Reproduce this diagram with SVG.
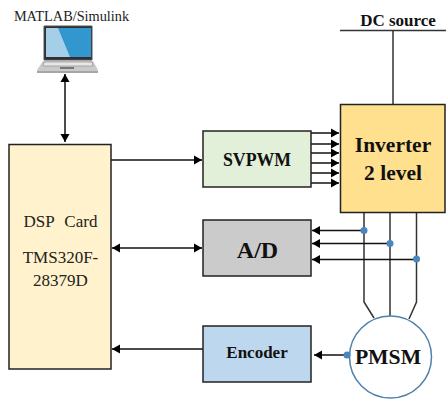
<svg xmlns="http://www.w3.org/2000/svg" width="446" height="401" viewBox="0 0 446 401">
<style>
.b{stroke:#222;stroke-width:1.5}
.c{fill:none;stroke:#111;stroke-width:1.5}
.w{fill:none;stroke:#333;stroke-width:1.5}
.r{font-family:"Liberation Serif",serif;fill:#222;text-anchor:middle}
.h{font-family:"Liberation Serif",serif;fill:#111;font-weight:bold;text-anchor:middle}
.d{fill:#4a86c0}
</style>
<defs>
<marker id="a" markerUnits="userSpaceOnUse" markerWidth="10" markerHeight="10" refX="9" refY="5" orient="auto-start-reverse"><path d="M1,0.500L9,5L1,9.500z" fill="#000"/></marker>
</defs>
<g id="laptop">
<path d="M44,26H92V60H44z" fill="#2e2e33" stroke="#555" stroke-width="1"/>
<path d="M46,28H91V57H46z" fill="#3297cf"/>
<path d="M46,28H58L70,57H46z" fill="#a5cfe8"/>
<path d="M43,61H93L98,70V73H37V70z" fill="#c9cacc"/>
<path d="M44,62H92L93,66H43z" fill="#e6e6e6" stroke="#777" stroke-width=".5"/>
<path d="M60,67H74V69H60z" fill="#777"/>
<path d="M37,71H98V73H37z" fill="#a5a6a8"/>
</g>
<text class="r" x="71.500" y="20.500" font-size="14.300" id="matlab-label">MATLAB/Simulink</text>
<g id="connectors">
<path class="c" d="M65,74V142" marker-start="url(#a)" marker-end="url(#a)"/>
<path class="c" d="M111,160H202" marker-end="url(#a)"/>
<path class="c" d="M112,248H202" marker-start="url(#a)" marker-end="url(#a)"/>
<path class="c" d="M203,349H112" marker-end="url(#a)"/>
<path class="c" d="M311,133H339" marker-end="url(#a)"/>
<path class="c" d="M311,144H339" marker-end="url(#a)"/>
<path class="c" d="M311,153H339" marker-end="url(#a)"/>
<path class="c" d="M311,163H339" marker-end="url(#a)"/>
<path class="c" d="M311,173H339" marker-end="url(#a)"/>
<path class="c" d="M311,183H339" marker-end="url(#a)"/>
<path class="w" d="M340,30.500H446M393,30.500V104"/>
<path class="w" d="M364,213V302L374,318M390,213V316M416.500,213V302L409,319"/>
<path class="c" d="M364,230.500H312" marker-end="url(#a)"/>
<path class="c" d="M390,243.500H312" marker-end="url(#a)"/>
<path class="c" d="M416.500,259.500H312" marker-end="url(#a)"/>
<path class="c" d="M347,355H314" marker-end="url(#a)"/>
<circle class="d" cx="364" cy="230.500" r="3.500"/>
<circle class="d" cx="390" cy="243.500" r="3.500"/>
<circle class="d" cx="416.500" cy="259" r="3.500"/>
</g>
<text class="h" x="398" y="26" font-size="17" id="dc-label">DC source</text>
<g id="dsp">
<rect class="b" x="9" y="144.500" width="102" height="224.500" fill="#fff2cc"/>
<text class="r" x="60.500" y="227" font-size="17" word-spacing="6">DSP Card</text>
<text class="r" x="60.500" y="263" font-size="17">TMS320F-</text>
<text class="r" x="60.500" y="286" font-size="17">28379D</text>
</g>
<g id="svpwm">
<rect class="b" x="203" y="131" width="108" height="56" fill="#e2efd9"/>
<text class="h" x="257" y="166" font-size="17.800">SVPWM</text>
</g>
<g id="inverter">
<rect class="b" x="340.500" y="104.500" width="104.500" height="108" fill="#ffe08f"/>
<text class="h" x="393" y="152" font-size="21.500">Inverter</text>
<text class="h" x="393" y="180" font-size="21.500">2 level</text>
</g>
<g id="ad">
<rect class="b" x="203" y="220" width="108" height="56" fill="#cccbcb"/>
<text class="h" x="257.500" y="258" font-size="24">A/D</text>
</g>
<g id="encoder">
<rect class="b" x="203" y="326" width="108" height="56" fill="#bdd7ee"/>
<text class="h" x="257" y="358" font-size="17">Encoder</text>
</g>
<g id="pmsm">
<circle cx="390.500" cy="357" r="41" fill="#fff" stroke="#4f81ad" stroke-width="1.500"/>
<text class="h" x="388" y="364" font-size="21.700">PMSM</text>
<circle class="d" cx="347" cy="355" r="3.500"/>
</g>
</svg>
